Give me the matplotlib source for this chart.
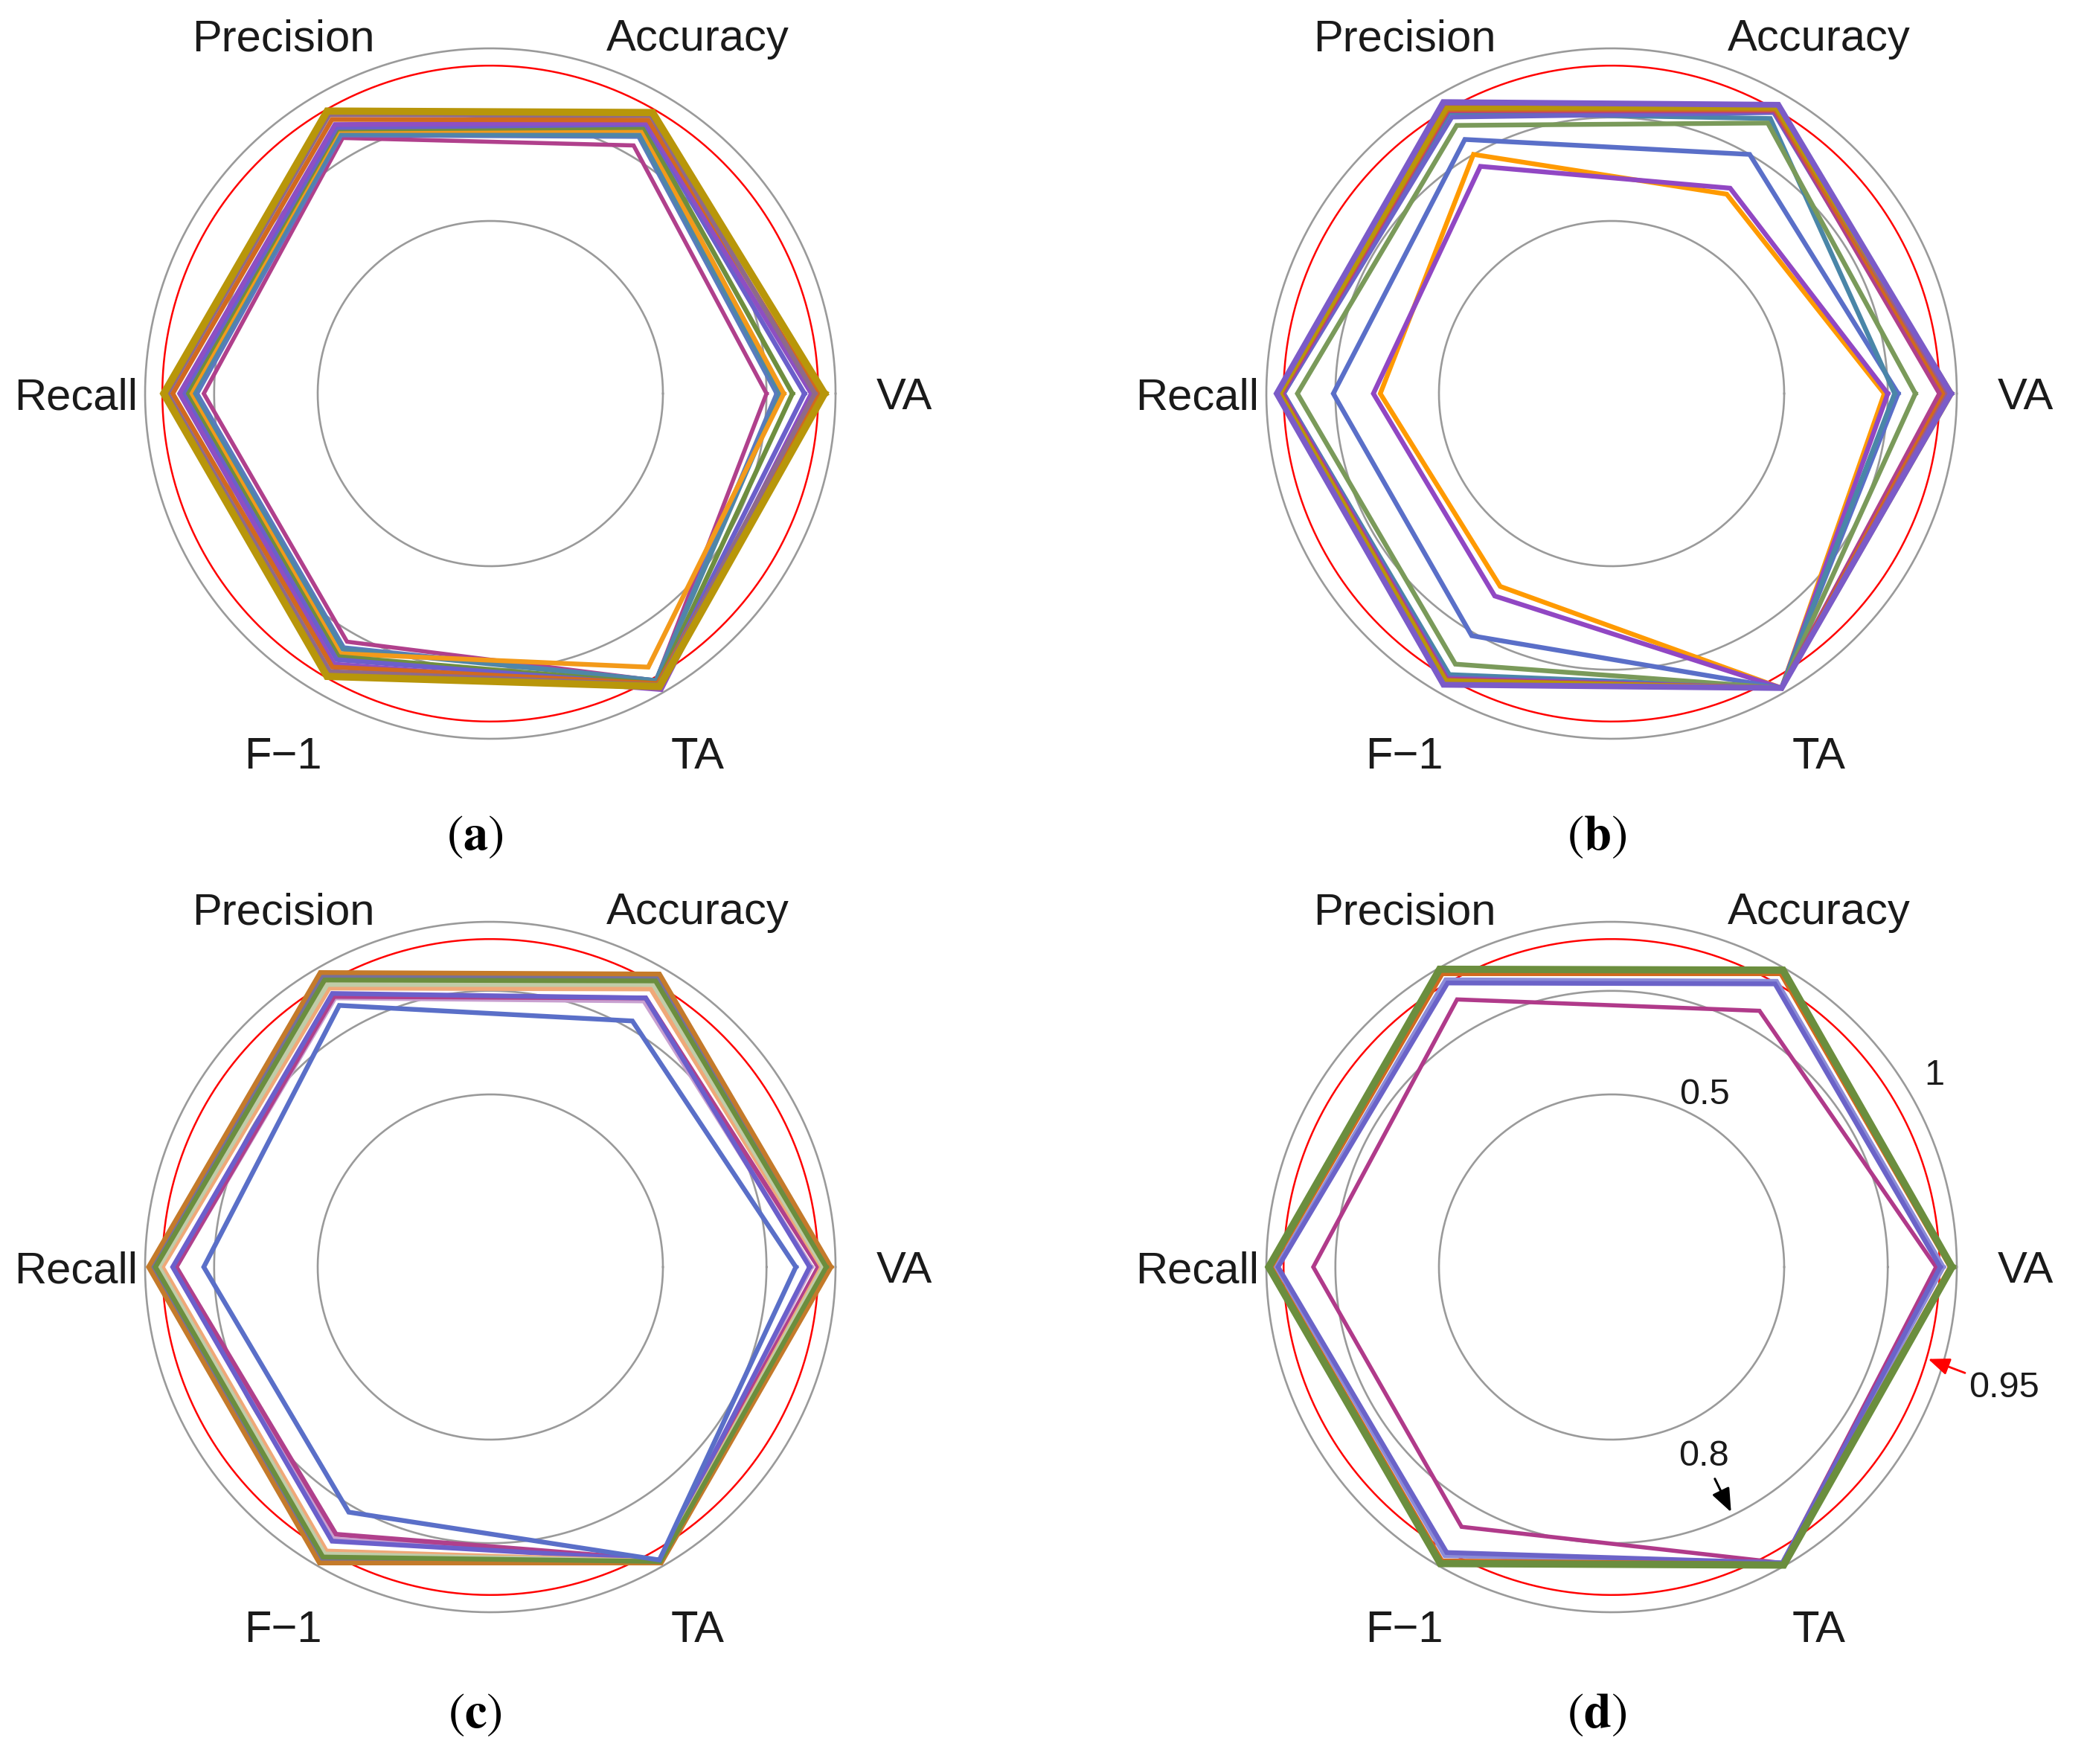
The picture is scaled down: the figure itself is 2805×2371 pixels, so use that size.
import numpy as np
import matplotlib
matplotlib.use('Agg')
import matplotlib.pyplot as plt

plt.rcParams['font.family'] = ['Liberation Sans', 'DejaVu Sans']
plt.rcParams['mathtext.fontset'] = 'stix'

# spoke labels, counter-clockwise from the right
axis_labels = ['VA', 'Accuracy', 'Precision', 'Recall', 'F\u22121', 'TA']
ring_values = [0.5, 0.8, 1.0]
red_ring = 0.95

# values per series: VA, Accuracy, Precision, Recall, F-1, TA
series_a = [
    [0.80, 0.83, 0.855, 0.83, 0.83, 0.96],
    [0.83, 0.86, 0.865, 0.85, 0.85, 0.96],
    [0.84, 0.865, 0.87, 0.86, 0.855, 0.96],
    [0.85, 0.88, 0.88, 0.87, 0.87, 0.915],
    [0.875, 0.89, 0.885, 0.88, 0.88, 0.97],
    [0.91, 0.90, 0.89, 0.89, 0.89, 0.975],
    [0.93, 0.905, 0.90, 0.90, 0.905, 0.99],
    [0.95, 0.915, 0.917, 0.92, 0.915, 0.97],
    [0.94, 0.93, 0.933, 0.935, 0.93, 0.975],
    [0.968, 0.94, 0.945, 0.946, 0.946, 0.98],
]
series_b = [
    [0.79, 0.667, 0.80, 0.67, 0.645, 0.985],
    [0.80, 0.687, 0.76, 0.69, 0.677, 0.985],
    [0.83, 0.80, 0.85, 0.806, 0.81, 0.985],
    [0.82, 0.92, 0.94, 0.95, 0.94, 0.985],
    [0.88, 0.905, 0.897, 0.91, 0.905, 0.985],
    [0.96, 0.94, 0.925, 0.95, 0.95, 0.985],
    [0.95, 0.945, 0.946, 0.955, 0.955, 0.985],
    [0.965, 0.95, 0.95, 0.96, 0.96, 0.985],
    [0.975, 0.96, 0.963, 0.965, 0.965, 0.985],
    [0.985, 0.955, 0.955, 0.96, 0.96, 0.985],
    [0.983, 0.966, 0.975, 0.97, 0.974, 0.985],
]
series_c = [
    [0.93, 0.89, 0.90, 0.91, 0.91, 0.98],
    [0.95, 0.90, 0.905, 0.91, 0.894, 0.98],
    [0.925, 0.90, 0.915, 0.92, 0.917, 0.98],
    [0.96, 0.93, 0.933, 0.95, 0.95, 0.985],
    [0.965, 0.945, 0.945, 0.96, 0.96, 0.985],
    [0.98, 0.97, 0.972, 0.98, 0.98, 0.988],
    [0.987, 0.98, 0.985, 0.99, 0.99, 0.99],
    [0.973, 0.957, 0.96, 0.97, 0.97, 0.985],
    [0.885, 0.823, 0.875, 0.83, 0.82, 0.98],
]
series_d = [
    [0.94, 0.857, 0.895, 0.864, 0.869, 0.99],
    [0.96, 0.955, 0.96, 0.97, 0.965, 0.99],
    [0.952, 0.947, 0.95, 0.966, 0.955, 0.99],
    [0.98, 0.98, 0.98, 0.985, 0.982, 0.993],
    [0.986, 0.993, 0.996, 0.993, 0.992, 0.997],
]

# line colours and widths (pt) for each series
colors_a = ['#B0408C', '#5A7AC0', '#4F86A8', '#F39A1A', '#6E8E3F',
            '#6B5FCB', '#8E4FC2', '#D2691E', '#8E6A8A', '#B8960A']
widths_a = [4.0, 4.6, 4.6, 4.6, 4.6, 4.6, 4.6, 4.6, 4.6, 7.0]
colors_b = ['#FF9A00', '#9147C3', '#5A6FC8', '#4A86A8', '#7A9A5A',
            '#6B63C8', '#B0408C', '#D2691E', '#9C5A8A', '#B8960A', '#7B5BC8']
widths_b = [4.6] * 10 + [5.6]
colors_c = ['#C8A0D0', '#B0408C', '#6B5FCB', '#F0A878', '#C0CCA8',
            '#76709A', '#C47A2A', '#6B8E3E', '#5A6FC8']
widths_c = [4.6] * 9
colors_d = ['#B03A8A', '#8C8CD8', '#6B63C8', '#D2691E', '#6B8E3E']
widths_d = [4.0, 5.0, 4.6, 4.0, 7.0]

W, H = 2805, 2371
R_PX = 464        # radius of the value-1 ring in pixels
RMAX = 1.25


def draw_panel(fig, cx, cy, series, colors, widths):
	half = R_PX * RMAX
	rect = [(cx - half) / W, (H - cy - half) / H, 2 * half / W, 2 * half / H]
	ax = fig.add_axes(rect, projection='polar')
	ax.set_ylim(0, RMAX)
	ax.grid(False)
	ax.set_xticks([])
	ax.set_yticks([])
	ax.spines['polar'].set_visible(False)
	ax.patch.set_alpha(0)

	ring_t = np.linspace(0, 2 * np.pi, 500)
	for rv in ring_values:
		ax.plot(ring_t, np.full_like(ring_t, rv), color='#9A9A9A', lw=1.9, zorder=1)
	ax.plot(ring_t, np.full_like(ring_t, red_ring), color='#FF0000', lw=1.8, zorder=1)

	angles = np.deg2rad(np.arange(len(axis_labels)) * 360.0 / len(axis_labels))
	closed = np.append(angles, angles[0])
	for vals, c, w in zip(series, colors, widths):
		r = list(vals) + [vals[0]]
		ax.plot(closed, r, color=c, lw=w, solid_joinstyle='miter', zorder=2)

	for a, lab in zip(angles, axis_labels):
		ax.text(a, 1.2, lab, ha='center', va='center_baseline', fontsize=43, color='#1A1A1A')
	return ax


fig = plt.figure(figsize=(W / 100, H / 100), dpi=100)

draw_panel(fig, 659, 529, series_a, colors_a, widths_a)
draw_panel(fig, 2166, 529, series_b, colors_b, widths_b)
draw_panel(fig, 659, 1703, series_c, colors_c, widths_c)
ax_d = draw_panel(fig, 2166, 1703, series_d, colors_d, widths_d)

# value annotations of panel (d)
ax_d.text(np.deg2rad(30.7), 1.088, '1', ha='center', va='center', fontsize=35, color='#1A1A1A')
ax_d.text(np.deg2rad(61.6), 0.566, '0.5', ha='center', va='center', fontsize=35, color='#1A1A1A')
ax_d.annotate('0.8', xy=(np.deg2rad(-64), 0.79), xytext=(np.deg2rad(-64), 0.61),
              ha='center', va='center', fontsize=35, color='#1A1A1A',
              arrowprops=dict(arrowstyle='-|>,head_length=0.55,head_width=0.22', color='black', lw=2.2,
                              shrinkA=4, shrinkB=0))
ax_d.annotate('0.95', xy=(np.deg2rad(-16.2), 0.955), xytext=(np.deg2rad(-17.1), 1.19),
              ha='center', va='center', fontsize=35, color='#1A1A1A',
              arrowprops=dict(arrowstyle='-|>,head_length=0.5,head_width=0.2', color='red', lw=2.0,
                              shrinkA=2, shrinkB=0))

# sub-figure captions
for lab, x, y in [('a', 638, 1125), ('b', 2146, 1125), ('c', 638, 2305), ('d', 2146, 2305)]:
	fig.text(x / W, 1 - y / H, r'$(\mathbf{%s})$' % lab, ha='center', va='center', fontsize=48)

fig.savefig('out.png', dpi=100)
